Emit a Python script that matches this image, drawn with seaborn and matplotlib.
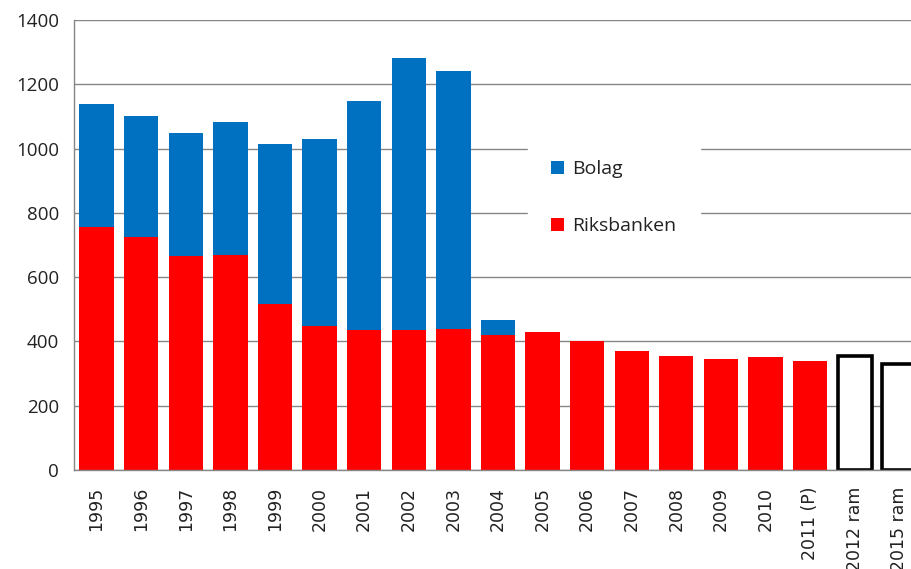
import pandas as pd
import numpy as np
import matplotlib.pyplot as plt
import seaborn as sns

# Kategorier och värden
ar = ['1995', '1996', '1997', '1998', '1999', '2000', '2001', '2002', '2003',
      '2004', '2005', '2006', '2007', '2008', '2009', '2010', '2011 (P)',
      '2012 ram', '2015 ram']
riksbanken = [755, 724, 666, 669, 516, 447, 437, 437, 439,
              419, 428, 401, 371, 355, 346, 351, 340]
bolag = [383, 378, 383, 412, 497, 582, 712, 846, 803,
         47, 0, 0, 0, 0, 0, 0, 0]
ram_ar = ['2012 ram', '2015 ram']
ram = [355, 329]

df = pd.DataFrame({'ar': ar[:len(riksbanken)], 'riksbanken': riksbanken, 'bolag': bolag})
df['totalt'] = df['riksbanken'] + df['bolag']
df_ram = pd.DataFrame({'ar': ram_ar, 'ram': ram})

sns.set_style('white')
plt.rcParams['font.family'] = ['Open Sans', 'DejaVu Sans']

fig = plt.figure(figsize=(9.12, 5.69), dpi=100)
ax = fig.add_axes([0.0815, 0.174, 0.929, 0.791])

blue = '#0070C0'
red = '#FF0000'
grid = '#868686'

sns.barplot(data=df, x='ar', y='totalt', order=ar, color=blue, width=0.77,
            saturation=1, linewidth=0, label='Bolag', ax=ax)
sns.barplot(data=df, x='ar', y='riksbanken', order=ar, color=red, width=0.77,
            saturation=1, linewidth=0, label='Riksbanken', ax=ax)
sns.barplot(data=df_ram, x='ar', y='ram', order=ar, color='white', width=0.77,
            saturation=1, edgecolor='black', linewidth=2.6, ax=ax)

ax.set_xlim(-0.5, len(ar) - 0.5)
ax.set_ylim(0, 1400)
ax.set_yticks(np.arange(0, 1401, 200))
ax.yaxis.grid(True, color=grid, linewidth=1)
ax.set_axisbelow(True)
ax.set_xlabel('')
ax.set_ylabel('')

for side in ['top', 'right']:
    ax.spines[side].set_visible(False)
for side in ['left', 'bottom']:
    ax.spines[side].set_color(grid)
    ax.spines[side].set_linewidth(1)

# Excel-stil: tickmarkeringar mellan kategorierna
ax.set_xticks(np.arange(-0.5, len(ar), 1), minor=True)
ax.tick_params(axis='x', which='major', length=0, pad=12)
ax.tick_params(axis='x', which='minor', length=5, color=grid, direction='out')
ax.tick_params(axis='y', length=5, color=grid, direction='out', pad=6)
ax.set_xticks(range(len(ar)))
ax.set_xticklabels(ar, rotation=90, fontsize=12.5, family='DejaVu Sans', color='#222222')
for t in ax.get_yticklabels():
    t.set_fontsize(13.5)
    t.set_color('#222222')

leg = ax.legend(loc='upper left', bbox_to_anchor=(0.535, 0.74), frameon=True,
                fontsize=14, handlelength=0.65, handleheight=0.65,
                handletextpad=0.45, labelspacing=2.0, borderpad=1.2,
                borderaxespad=0)
leg.get_frame().set_facecolor('white')
leg.get_frame().set_edgecolor('white')
leg.get_frame().set_alpha(1)
leg.get_frame().set_boxstyle('square', pad=0)
for t in leg.get_texts():
    t.set_color('#222222')

fig.savefig('out.png', dpi=100)
